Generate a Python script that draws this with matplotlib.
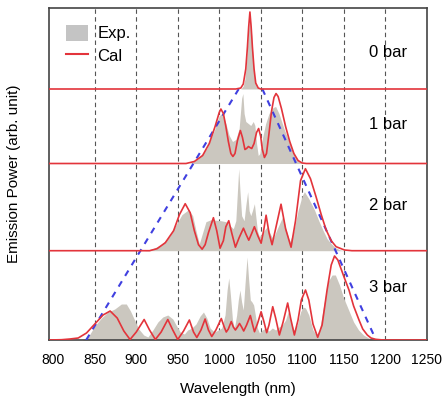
import matplotlib.pyplot as plt
from matplotlib.patches import Patch
from matplotlib.lines import Line2D

# ---------------------------------------------------------------
# Data (wavelength in nm, height in arb. units)
# ---------------------------------------------------------------
panel_labels = ["0 bar", "1 bar", "2 bar", "3 bar"]

# 0 bar
exp_0_x = [1026, 1029, 1031, 1033, 1035, 1037, 1039, 1041, 1043, 1045, 1048]
exp_0_y = [0, 3, 10, 28, 55, 74, 55, 26, 9, 2, 0]
cal_0_x = [795, 1020, 1026, 1029, 1032, 1034, 1035.5, 1037, 1038.5, 1040,
           1042, 1044, 1047, 1050, 1250]
cal_0_y = [0, 0, 1, 5, 20, 42, 62, 77, 62, 42, 20, 6, 1, 0, 0]

# 1 bar
exp_1_x = [965, 975, 985, 995, 1000, 1004, 1008, 1012, 1016, 1020, 1024,
           1027, 1028.5, 1030, 1032, 1035, 1038, 1041, 1043, 1045, 1047,
           1049, 1052, 1056, 1060, 1065, 1068, 1072, 1078, 1085, 1090,
           1096, 1100]
exp_1_y = [0, 5, 15, 35, 48, 50, 40, 28, 22, 24, 35, 65, 70, 50, 42, 40,
           38, 42, 38, 20, 8, 10, 25, 40, 50, 56, 57, 50, 35, 20, 10, 2, 0]
cal_1_x = [795, 960, 970, 980, 988, 995, 1000, 1002, 1005, 1008, 1011,
           1014, 1016.5, 1019, 1022, 1025.5, 1028, 1031, 1033, 1035.2,
           1037, 1039.2, 1042, 1045, 1047.5, 1050, 1052, 1054.5, 1057,
           1060, 1063, 1066, 1068.5, 1071, 1075, 1080, 1085, 1090, 1095,
           1100, 1105, 1250]
cal_1_y = [0, 0, 2, 8, 20, 37, 51, 54.5, 50, 37, 22, 10, 7, 10, 23, 33,
           26, 14, 15, 17, 16, 15, 20, 31, 35, 27, 14, 6, 10, 30, 52, 66,
           70, 67, 55, 37, 22, 10, 3, 0.5, 0, 0]

# 2 bar
exp_2_x = [910, 920, 930, 940, 948, 955, 963, 968, 972, 976, 980, 984,
           990, 996, 1002, 1008, 1013, 1017, 1020, 1022, 1023.5, 1025,
           1027, 1030, 1032, 1034.3, 1036, 1038, 1040, 1042.4, 1044, 1046,
           1048.4, 1052, 1058, 1062, 1065, 1070, 1076.5, 1081, 1085, 1090,
           1095, 1100, 1102.7, 1108, 1114.7, 1120, 1124.8, 1130, 1135,
           1140, 1145, 1150]
exp_2_y = [0, 2, 6, 14, 26, 36, 41, 35, 20, 7, 18, 29, 31, 30.5, 30, 29,
           25, 22, 30, 60, 82, 60, 35, 30, 45, 59, 40, 35, 40, 47, 35, 20,
           14, 18, 24, 16, 12, 22, 34, 20, 9, 20, 40, 55, 59, 52, 41, 30,
           21, 12, 7, 3, 1, 0]
cal_2_x = [795, 916, 925, 935, 945, 952, 959, 965, 970, 975, 979.4, 983,
           987, 993, 997, 1001, 1005, 1008, 1011.5, 1015, 1019.5, 1024,
           1029.2, 1032.5, 1035.6, 1039, 1042.4, 1046.5, 1050.5, 1053.5,
           1056.5, 1060, 1063.7, 1068, 1074.5, 1080, 1086.6, 1092, 1098,
           1103.9, 1110, 1116.7, 1123, 1128.8, 1135, 1140.9, 1151, 1160,
           1250]
cal_2_y = [0, 0, 2, 8, 20, 36, 47, 38, 20, 6, 1.5, 6, 18, 33, 20, 2.5, 10,
           24, 30, 18, 3.5, 13, 22.5, 16, 10.5, 17, 24, 15, 7.5, 20, 35.5,
           18, 6, 22, 46.5, 22, 3.5, 30, 70, 82, 72, 54, 36, 21, 10, 4, 0.7,
           0, 0]

# 3 bar
exp_3_x = [835, 842, 850, 858, 866, 874, 882, 888, 893, 898, 903, 909,
           914, 920, 926, 932, 938, 944, 948, 953, 958, 962, 967, 972, 977,
           981, 985, 989, 994, 999, 1003, 1007, 1009.5, 1011.5, 1013.5,
           1016, 1018.3, 1021, 1023, 1025, 1027, 1029, 1031, 1033.5, 1035.5,
           1037.5, 1039.5, 1041.5, 1043.5, 1046, 1048.5, 1052, 1056, 1060,
           1064, 1068, 1072, 1076, 1080, 1083, 1086, 1090, 1094, 1098, 1101,
           1104, 1108, 1113, 1117, 1121, 1126, 1131, 1136, 1140, 1145, 1150,
           1156, 1162, 1168, 1174, 1180, 1187, 1195]
exp_3_y = [0, 3, 14, 22, 28, 31, 36, 36, 29, 20, 11, 5, 3, 10, 18, 23, 25,
           21, 15, 8, 6, 10, 12, 16, 24, 28, 22, 12, 8, 10, 12, 25, 50, 62,
           45, 20, 12, 25, 40, 50, 38, 30, 55, 83, 60, 40, 38, 35, 25, 12, 7,
           10, 12, 9, 12, 10, 13, 15, 20, 28, 20, 10, 15, 28, 33, 32, 25, 10,
           5, 10, 35, 58, 65, 65, 55, 42, 30, 18, 10, 5, 2, 0.5, 0]
cal_3_x = [795, 810, 820, 830, 840, 850, 860, 868.5, 877, 885, 892.5, 900,
           909.5, 916, 923, 930, 938, 944, 950, 957, 964, 969, 973, 978, 983,
           987, 991, 996, 1002.5, 1006, 1008.5, 1011, 1014.5, 1017, 1019.5,
           1022, 1024.5, 1027, 1029.5, 1033, 1037.5, 1040, 1042.5, 1046,
           1050.5, 1054, 1057.2, 1060, 1064.5, 1068, 1072.5, 1077, 1082.5,
           1086, 1090.6, 1095, 1099, 1104, 1108, 1113, 1118.7, 1124, 1130,
           1135, 1139, 1143, 1150, 1156.4, 1162, 1168.5, 1173, 1178.5, 1183,
           1188.6, 1195, 1200, 1250]
cal_3_y = [0, 0.3, 1, 2, 7, 16, 25, 29, 22, 9, 0.5, 8, 20.5, 10, 0.5, 8,
           20.5, 10, 0.5, 9, 20, 8, 2.5, 10, 21, 10, 3.5, 10, 21.5, 13, 8,
           11, 18.5, 13, 10, 13, 16.5, 13, 9, 15, 24.5, 16, 8.3, 16, 28.3,
           18, 7.3, 15, 33.3, 22, 5, 18, 37, 22, 5, 20, 40, 50, 40, 16, 2.7,
           15, 50, 75, 84, 80, 64, 50, 34, 20, 11, 5, 2, 0.7, 0.2, 0, 0]

# blue dashed envelope (tuning range)
env_x = [839.6, 1023.5, 1052, 1189]
env_y = [0, 251, 251, 0]

# ---------------------------------------------------------------
# Layout / style
# ---------------------------------------------------------------
plt.rcParams["font.family"] = ["Liberation Sans", "DejaVu Sans"]
color_exp = "#cbc7bf"
color_cal = "#e3343b"
color_env = "#4040e0"

offsets = [251, 176.5, 89.3, 0]
label_heights = [37, 39.5, 45, 52.5]
exp_series = [(exp_0_x, exp_0_y), (exp_1_x, exp_1_y), (exp_2_x, exp_2_y), (exp_3_x, exp_3_y)]
cal_series = [(cal_0_x, cal_0_y), (cal_1_x, cal_1_y), (cal_2_x, cal_2_y), (cal_3_x, cal_3_y)]

fig = plt.figure(figsize=(4.43, 3.96), dpi=100)
ax = fig.add_axes([0.111, 0.1414, 0.852, 0.8384])

for xv in [850, 900, 950, 1000, 1050, 1100, 1150, 1200]:
    ax.axvline(xv, color="#555555", linewidth=0.8, linestyle=(0, (4, 3)), zorder=1)

for (ex, ey), (cx, cy), off, lab, lh in zip(exp_series, cal_series, offsets,
                                              panel_labels, label_heights):
    ax.fill_between(ex, off, [off + v for v in ey], color=color_exp, linewidth=0, zorder=2)
    ax.plot(cx, [off + v for v in cy], color=color_cal, linewidth=1.2,
            solid_joinstyle="round", zorder=4)
    ax.text(1204, off + lh, lab, ha="center", va="center", fontsize=12, zorder=5)

ax.plot(env_x[:2], env_y[:2], color=color_env, linewidth=1.5, linestyle=(0, (3, 3)), zorder=3)
ax.plot(env_x[2:], env_y[2:], color=color_env, linewidth=1.5, linestyle=(0, (3, 3)), zorder=3)

ax.set_xlim(795, 1250)
ax.set_ylim(0, 332)
ax.set_xticks([800, 850, 900, 950, 1000, 1050, 1100, 1150, 1200, 1250])
ax.set_yticks([])
ax.tick_params(axis="x", length=0, pad=9, labelsize=10)
for s in ax.spines.values():
    s.set_color("#444444")
    s.set_linewidth(1.2)

ax.set_xlabel("Wavelength (nm)", fontsize=11, labelpad=11)
ax.set_ylabel("Emission Power (arb. unit)", fontsize=11)
ax.yaxis.set_label_coords(-0.075, 0.5)

handles = [Patch(facecolor="#c4c4c4", edgecolor="none"),
           Line2D([0], [0], color=color_cal, linewidth=1.5)]
ax.legend(handles, ["Exp.", "Cal"], loc="upper left", frameon=False, fontsize=12,
          handlelength=1.3, handleheight=1.1, borderaxespad=0.5, labelspacing=0.35,
          handletextpad=0.6, borderpad=0.5)

fig.savefig("out.png", dpi=100)
